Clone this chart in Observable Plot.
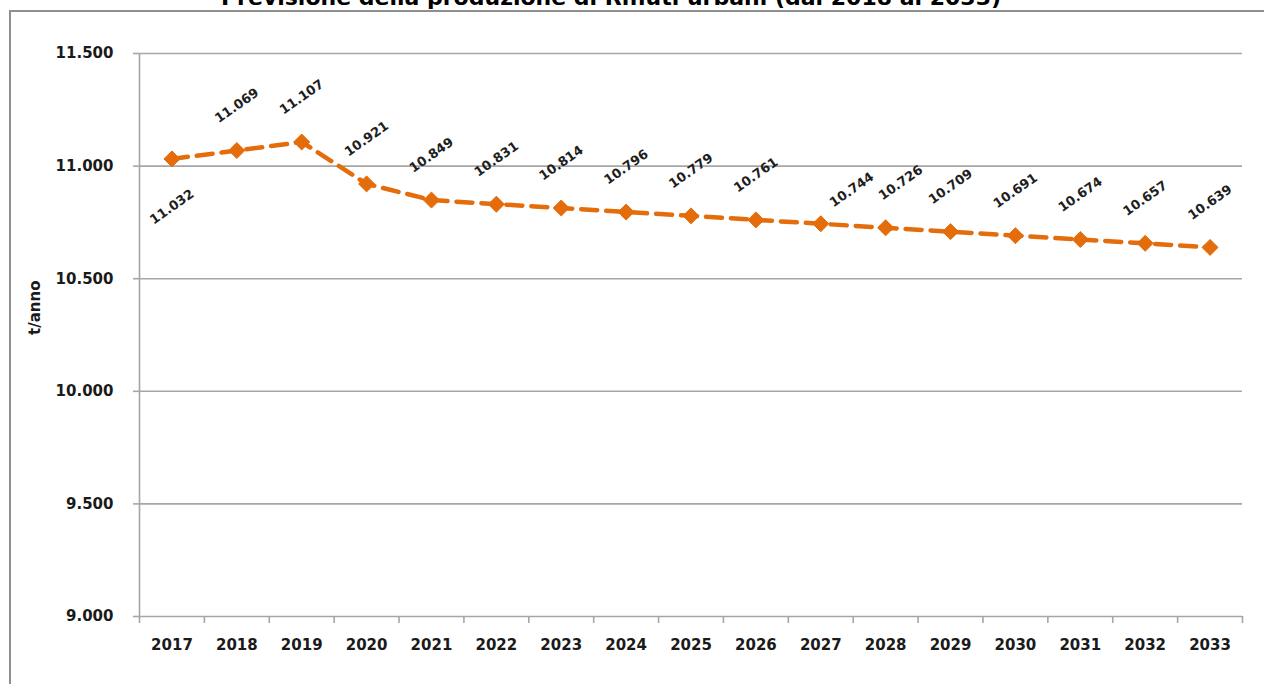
<!DOCTYPE html>
<html>
<head>
<meta charset="utf-8">
<script src="https://cdn.jsdelivr.net/npm/d3@7"></script>
<script src="https://cdn.jsdelivr.net/npm/@observablehq/plot@0.6"></script>
<style>
  html, body { margin: 0; padding: 0; background: #fff; overflow: hidden; }
  #wrap { position: relative; width: 1264px; height: 684px; overflow: hidden; }
  #title { position: absolute; top: -13px; left: 611px; transform: translateX(-50%);
           white-space: nowrap; font-family: "DejaVu Sans", sans-serif; font-weight: bold;
           font-size: 22px; line-height: 22px; color: #000; z-index: 2; }
  #frameL { position: absolute; left: 9px; top: 10px; width: 2px; height: 674px; background: #8f8f8f; z-index: 1; }
  #frameT { position: absolute; left: 9px; top: 10px; width: 1255px; height: 2px; background: #8f8f8f; z-index: 1; }
  svg { display: block; }
</style>
</head>
<body>
<div id="wrap">
  <div id="title">Previsione della produzione di Rifiuti urbani (dal 2018 al 2033)</div>
  <div id="chart"></div>
  <div id="frameL"></div>
  <div id="frameT"></div>
</div>
<script>
const years = [2017, 2018, 2019, 2020, 2021, 2022, 2023, 2024, 2025, 2026, 2027, 2028, 2029, 2030, 2031, 2032, 2033];
const values = [11032, 11069, 11107, 10921, 10849, 10831, 10814, 10796, 10779, 10761, 10744, 10726, 10709, 10691, 10674, 10657, 10639];
const yTicks = [9000, 9500, 10000, 10500, 11000, 11500];
const yLabel = "t/anno";

const data = years.map((year, i) => ({year, value: values[i]}));
const fmt = d3.formatLocale({decimal: ",", thousands: ".", grouping: [3], currency: ["€", ""]}).format(",d");
const xDomain = [years[0] - 0.5, years[years.length - 1] + 0.5];
const bounds = years.map(y => y - 0.5).concat([years[years.length - 1] + 0.5]);

const orange = "#E46C0A";
const gray = "#a6a6a6";
const labelStyle = {x: "year", y: "value", text: d => fmt(d.value), rotate: -35, fontSize: 13, fontWeight: "bold", fill: "#1e1e1e"};
const firstYear = years[0];
const shiftedA = years[10];
const shiftedB = years[11];

const chart = Plot.plot({
  width: 1264,
  height: 684,
  marginLeft: 139,
  marginRight: 22,
  marginTop: 53,
  marginBottom: 68,
  style: {fontFamily: "DejaVu Sans, sans-serif", background: "white", display: "block"},
  x: {domain: xDomain},
  y: {domain: [yTicks[0], yTicks[yTicks.length - 1]]},
  marks: [
    Plot.ruleY(yTicks, {stroke: gray, strokeWidth: 1.6}),
    Plot.ruleX([xDomain[0]], {stroke: gray, strokeWidth: 1.6}),
    Plot.axisY({ticks: yTicks, tickSize: 6, tickPadding: 20, tickFormat: fmt, label: null,
                fontSize: 15, fontWeight: "bold", stroke: gray, strokeWidth: 1.6, fill: "#1a1a1a"}),
    Plot.axisX({ticks: years, tickSize: 0, tickPadding: 23, tickFormat: d => String(d), label: null,
                fontSize: 15, fontWeight: "bold", fill: "#1a1a1a"}),
    Plot.axisX({ticks: bounds, tickSize: 7, tickFormat: () => "", label: null, stroke: gray, strokeWidth: 1.6}),
    Plot.text([yLabel], {frameAnchor: "left", dx: -104, rotate: -90, fontSize: 15, fontWeight: "bold", fill: "#1a1a1a"}),
    Plot.line(data, {x: "year", y: "value", stroke: orange, strokeWidth: 4.5, strokeDasharray: "16,9"}),
    Plot.dot(data, {x: "year", y: "value", symbol: "diamond2", r: 7.2, fill: orange, stroke: orange, strokeWidth: 1}),
    Plot.text(data.filter(d => d.year === firstYear), {...labelStyle, dy: 48}),
    Plot.text(data.filter(d => d.year === shiftedA), {...labelStyle, dx: 31, dy: -34}),
    Plot.text(data.filter(d => d.year === shiftedB), {...labelStyle, dx: 15, dy: -45}),
    Plot.text(data.filter(d => d.year !== firstYear && d.year !== shiftedA && d.year !== shiftedB), {...labelStyle, dy: -45})
  ]
});
document.getElementById("chart").appendChild(chart);
</script>
</body>
</html>
